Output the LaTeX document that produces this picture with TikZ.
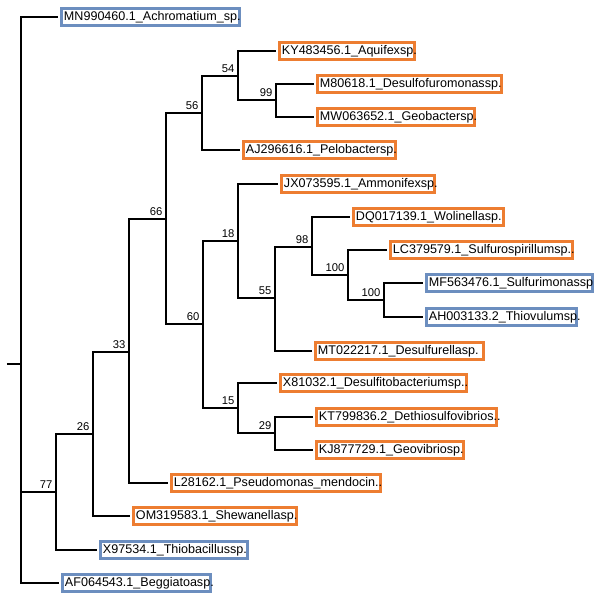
\documentclass[tikz,border=0pt]{standalone}
\usepackage{fontspec}
\setmainfont{Liberation Sans}
\definecolor{boxorange}{RGB}{237,125,49}
\definecolor{boxblue}{RGB}{108,142,191}

\begin{document}
\begin{tikzpicture}[
    x=0.02cm, y=-0.02cm,
    font=\fontsize{7.15pt}{8.5pt}\selectfont,
    branch/.style={line width=0.6pt},
    tip/.style={line width=0.6pt, shorten >=2pt},
    leaf/.style={draw=#1, line width=1.7pt, anchor=west, outer sep=0pt,
        inner xsep=0.05cm, inner ysep=0pt, minimum height=0.34cm, align=left},
    boot/.style={font=\fontsize{6.4pt}{7pt}\selectfont, inner sep=1.8pt}
]
\useasboundingbox (0,0) rectangle (600,600);

% === Inner nodes (bootstrap values) ===
\coordinate (stub) at (7,364);
\coordinate (root) at (21,364);
\coordinate[label={[boot]above left:77}] (n77) at (56,492);
\coordinate[label={[boot]above left:26}] (n26) at (93,434);
\coordinate[label={[boot]above left:33}] (n33) at (129,352);
\coordinate[label={[boot]above left:66}] (n66) at (166,219);
\coordinate[label={[boot]above left:56}] (n56) at (202,113);
\coordinate[label={[boot]above left:54}] (n54) at (238,76);
\coordinate[label={[boot]above left:99}] (n99) at (276,100);
\coordinate[label={[boot]above left:60}] (n60) at (203,324);
\coordinate[label={[boot]above left:18}] (n18) at (238,241);
\coordinate[label={[boot]above left:55}] (n55) at (275,298);
\coordinate[label={[boot]above left:98}] (n98) at (312,247);
\coordinate[label={[boot]above left:100}] (n100a) at (348,275);
\coordinate[label={[boot]above left:100}] (n100b) at (384,300);
\coordinate[label={[boot]above left:15}] (n15) at (238,408);
\coordinate[label={[boot]above left:29}] (n29) at (275,433);

% === Leaves ===
\node[leaf=boxblue, text width=3.46cm] (achro) at (61.5,17) {MN990460.1\_Achromatium\_sp.};
\node[leaf=boxorange, text width=2.60cm] (aquifex) at (279.5,51) {KY483456.1\_Aquifexsp.};
\node[leaf=boxorange, text width=3.58cm] (desulfo) at (317.5,84) {M80618.1\_Desulfofuromonassp.};
\node[leaf=boxorange, text width=3.04cm] (geob) at (317.5,117) {MW063652.1\_Geobactersp.};
\node[leaf=boxorange, text width=2.94cm] (pelob) at (243.5,150) {AJ296616.1\_Pelobactersp.};
\node[leaf=boxorange, text width=2.96cm] (ammon) at (281.5,184) {JX073595.1\_Ammonifexsp.};
\node[leaf=boxorange, text width=2.90cm] (wolin) at (353.5,217) {DQ017139.1\_Wolinellasp.};
\node[leaf=boxorange, text width=3.54cm] (sulfuro) at (390.5,250) {LC379579.1\_Sulfurospirillumsp..};
\node[leaf=boxblue, text width=3.22cm] (sulfuri) at (426.5,283) {MF563476.1\_Sulfurimonassp};
\node[leaf=boxblue, text width=2.90cm] (thiov) at (426.5,317) {AH003133.2\_Thiovulumsp.};
\node[leaf=boxorange, text width=3.26cm] (desulfur) at (315.5,351) {MT022217.1\_Desulfurellasp.};
\node[leaf=boxorange, text width=3.62cm] (desulfito) at (280.5,383) {X81032.1\_Desulfitobacteriumsp..};
\node[leaf=boxorange, text width=3.50cm] (dethio) at (316.5,417) {KT799836.2\_Dethiosulfovibrios..};
\node[leaf=boxorange, text width=2.84cm] (geovib) at (316.5,450) {KJ877729.1\_Geovibriosp.};
\node[leaf=boxorange, text width=4.08cm] (pseudo) at (171.5,483) {L28162.1\_Pseudomonas\_mendocin..};
\node[leaf=boxorange, text width=3.16cm] (shewa) at (133.5,516) {OM319583.1\_Shewanellasp.};
\node[leaf=boxblue, text width=2.84cm] (thioba) at (100.5,550) {X97534.1\_Thiobacillussp.};
\node[leaf=boxblue, text width=2.86cm] (beggi) at (62.5,583) {AF064543.1\_Beggiatoasp.};

% === Branches ===
\draw[branch] (stub) -- (root);
\draw[tip] (root) |- (achro.west);
\draw[branch] (root) |- (n77);
\draw[tip] (root) |- (beggi.west);

\draw[branch] (n77) |- (n26);
\draw[tip] (n77) |- (thioba.west);
\draw[branch] (n26) |- (n33);
\draw[tip] (n26) |- (shewa.west);
\draw[branch] (n33) |- (n66);
\draw[tip] (n33) |- (pseudo.west);
\draw[branch] (n66) |- (n56);
\draw[branch] (n66) |- (n60);

% upper clade
\draw[branch] (n56) |- (n54);
\draw[tip] (n56) |- (pelob.west);
\draw[tip] (n54) |- (aquifex.west);
\draw[branch] (n54) |- (n99);
\draw[tip] (n99) |- (desulfo.west);
\draw[tip] (n99) |- (geob.west);

% lower clade
\draw[branch] (n60) |- (n18);
\draw[branch] (n60) |- (n15);
\draw[tip] (n18) |- (ammon.west);
\draw[branch] (n18) |- (n55);
\draw[branch] (n55) |- (n98);
\draw[tip] (n55) |- (desulfur.west);
\draw[tip] (n98) |- (wolin.west);
\draw[branch] (n98) |- (n100a);
\draw[tip] (n100a) |- (sulfuro.west);
\draw[branch] (n100a) |- (n100b);
\draw[tip] (n100b) |- (sulfuri.west);
\draw[tip] (n100b) |- (thiov.west);
\draw[tip] (n15) |- (desulfito.west);
\draw[branch] (n15) |- (n29);
\draw[tip] (n29) |- (dethio.west);
\draw[tip] (n29) |- (geovib.west);

\end{tikzpicture}
\end{document}
